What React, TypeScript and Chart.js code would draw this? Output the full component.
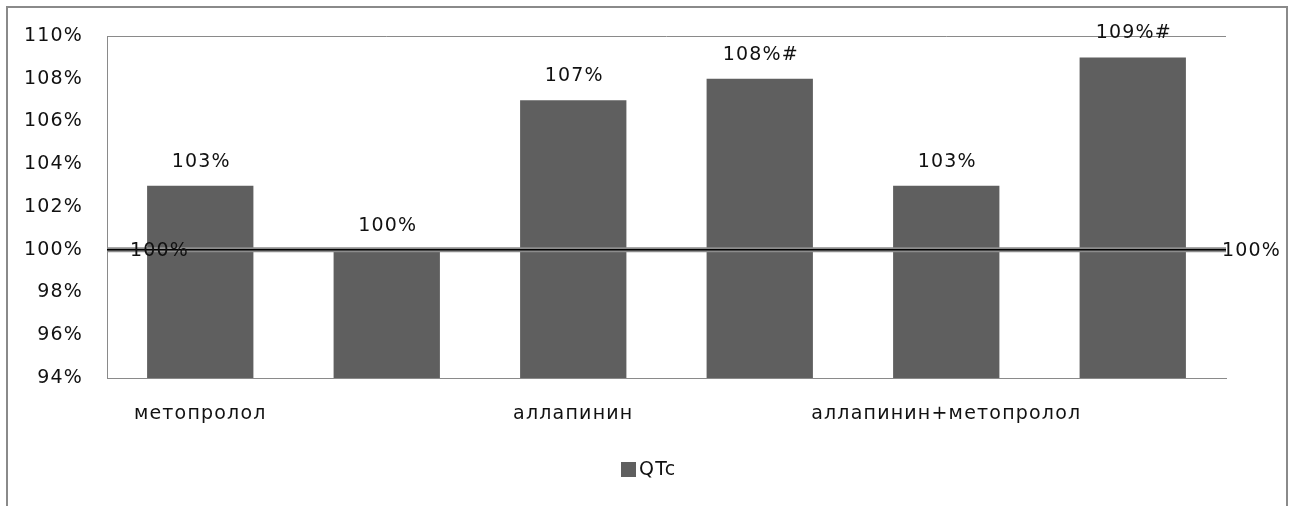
import React, { useEffect, useRef } from "react";
import { Chart, registerables } from "chart.js";

Chart.register(...registerables);

// ---- data ----
const categories = ["метопролол", "", "аллапинин", "", "аллапинин+метопролол", ""];
const qtcValues = [103, 100, 107, 108, 103, 109];
const qtcLabels = ["103%", "100%", "107%", "108%#", "103%", "109%#"];
const seriesName = "QTc";
const baselinePoints = [
  { x: 0, y: 100 },
  { x: 1, y: 100 },
];
const baselineLabels = ["100%", "100%"];
const yMin = 94;
const yMax = 110;
const yStep = 2;

const FONT = "'DejaVu Sans', sans-serif";
const FSIZE = 19;
const TEXT = "#111111";
const BAR = "#5f5f5f";
const FRAME = "#8a8a8a";
const SPACING = "1.2px";

const overlayPlugin = {
  id: "overlay",
  beforeDraw(chart: any) {
    const ctx = chart.ctx;
    ctx.save();
    ctx.fillStyle = "#ffffff";
    ctx.fillRect(0, 0, chart.width, chart.height);
    ctx.strokeStyle = FRAME;
    ctx.lineWidth = 2;
    ctx.strokeRect(7, 7, 1280, 700);
    ctx.restore();
    (ctx as any).letterSpacing = SPACING;
  },
  afterDatasetsDraw(chart: any) {
    const ctx = chart.ctx;
    const area = chart.chartArea;
    ctx.save();
    (ctx as any).letterSpacing = SPACING;
    // top border of plot area
    ctx.strokeStyle = FRAME;
    ctx.lineWidth = 1;
    ctx.beginPath();
    ctx.moveTo(area.left, area.top + 0.5);
    ctx.lineTo(area.right, area.top + 0.5);
    ctx.stroke();

    ctx.font = `${FSIZE}px ${FONT}`;
    ctx.fillStyle = TEXT;
    ctx.textAlign = "center";
    ctx.textBaseline = "alphabetic";
    const barMeta = chart.getDatasetMeta(0);
    barMeta.data.forEach((el: any, i: number) => {
      ctx.fillText(qtcLabels[i], el.x + 1, el.y - 19);
    });

    const lineMeta = chart.getDatasetMeta(2);
    const p0 = lineMeta.data[0];
    const p1 = lineMeta.data[1];
    ctx.textAlign = "left";
    ctx.textBaseline = "middle";
    ctx.fillText(baselineLabels[0], p0.x + 23, p0.y + 1);
    ctx.fillText(baselineLabels[1], p1.x - 4, p1.y + 1);

    // legend
    ctx.fillStyle = BAR;
    ctx.fillRect(621, 462, 15, 15);
    ctx.fillStyle = TEXT;
    ctx.font = `${FSIZE}px ${FONT}`;
    ctx.textAlign = "left";
    ctx.textBaseline = "middle";
    ctx.fillText(seriesName, 639, 470);
    ctx.restore();
  },
};

export default function App() {
  const ref = useRef<HTMLCanvasElement | null>(null);

  useEffect(() => {
    if (!ref.current) return;
    const chart = new Chart(ref.current, {
      type: "bar",
      data: {
        labels: categories,
        datasets: [
          {
            type: "bar",
            label: seriesName,
            data: qtcValues,
            xAxisID: "x",
            backgroundColor: BAR,
            borderWidth: 0,
            barPercentage: 0.57,
            categoryPercentage: 1,
            grouped: false,
            order: 3,
          } as any,
          {
            type: "line",
            label: "base-outer",
            data: baselinePoints,
            xAxisID: "x2",
            yAxisID: "y",
            borderColor: "#8c8c8c",
            borderWidth: 5,
            pointRadius: 0,
            order: 2,
          } as any,
          {
            type: "line",
            label: "base-inner",
            data: baselinePoints,
            xAxisID: "x2",
            yAxisID: "y",
            borderColor: "#000000",
            borderWidth: 1.5,
            pointRadius: 0,
            order: 1,
          } as any,
        ],
      },
      options: {
        responsive: false,
        animation: false,
        devicePixelRatio: 1,
        layout: { padding: { top: 36, left: 0, right: 69, bottom: 78 } },
        plugins: {
          legend: { display: false },
          tooltip: { enabled: false },
        },
        scales: {
          x: {
            type: "category",
            offset: true,
            grid: { display: false, drawTicks: false },
            border: { display: true, color: FRAME, width: 1 },
            ticks: {
              autoSkip: false,
              maxRotation: 0,
              minRotation: 0,
              padding: 25,
              color: TEXT,
              font: { family: FONT, size: FSIZE },
            },
            afterFit: (s: any) => {
              s.height = 50;
            },
          },
          x2: {
            type: "linear",
            display: false,
            offset: false,
            grid: { offset: false },
            min: 0,
            max: 1,
          },
          y: {
            min: yMin,
            max: yMax,
            grid: { display: false, drawTicks: false },
            border: { display: true, color: FRAME, width: 1 },
            ticks: {
              stepSize: yStep,
              padding: 24,
              color: TEXT,
              font: { family: FONT, size: FSIZE },
              callback: (v: any) => `${v}%`,
            },
            afterFit: (s: any) => {
              s.width = 107;
            },
          },
        },
      } as any,
      plugins: [overlayPlugin],
    });
    return () => chart.destroy();
  }, []);

  return (
    <div style={{ position: "fixed", left: 0, top: 0, width: 1295, height: 506, background: "#fff" }}>
      <canvas ref={ref} width={1295} height={506} />
    </div>
  );
}
